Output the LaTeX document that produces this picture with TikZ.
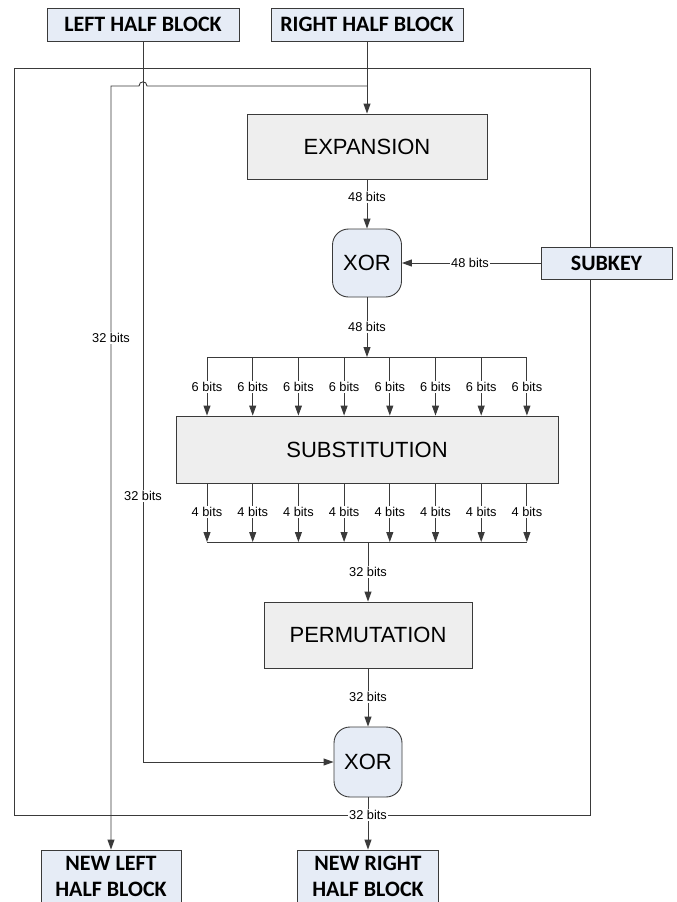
\documentclass[tikz,border=0pt]{standalone}
\usepackage{fontspec}
\setmainfont{Liberation Sans}
\newfontfamily\calfont{Carlito}
\usetikzlibrary{arrows.meta}
\definecolor{edge}{HTML}{3A3A3A}
\definecolor{bluefill}{HTML}{E6ECF6}
\definecolor{grayfill}{HTML}{EEEEEE}
\begin{document}
\begin{tikzpicture}[x=1pt,y=-1pt,line width=0.9pt,
  blockbox/.style={draw=edge,fill=bluefill,inner sep=0pt,align=center,
    font=\calfont\bfseries\fontsize{22}{26}\selectfont},
  procbox/.style={draw=edge,fill=grayfill,inner sep=0pt,
    font=\fontsize{22}{26}\selectfont},
  xorbox/.style={draw=edge,fill=bluefill,inner sep=0pt,rounded corners=16pt,
    font=\fontsize{22}{26}\selectfont},
  bits/.style={fill=white,inner sep=1pt,font=\fontsize{12.8}{14}\selectfont},
  arr/.style={draw=edge,-{Triangle[length=10pt,width=7pt]}},
  ln/.style={draw=edge}]
\useasboundingbox (0,0) rectangle (677,902);
\clip (0,0) rectangle (677,902);
\fill[white] (0,0) rectangle (677,902);
% frame
\draw[ln] (14,68) rectangle (590,815);
% nodes
\node[blockbox,minimum width=192pt,minimum height=33pt] (LHB) at (143,24.5) {LEFT HALF BLOCK};
\node[blockbox,minimum width=192pt,minimum height=33pt] (RHB) at (367,24.5) {RIGHT HALF BLOCK};
\node[procbox,minimum width=240pt,minimum height=65pt] (EXP) at (367,146.5) {EXPANSION};
\node[xorbox,minimum width=69pt,minimum height=68pt] (XOR1) at (367,263) {XOR};
\node[blockbox,minimum width=131pt,minimum height=32pt] (KEY) at (606.5,263) {SUBKEY};
\node[procbox,minimum width=382pt,minimum height=67pt] (SUB) at (367,449.5) {SUBSTITUTION};
\node[procbox,minimum width=208pt,minimum height=66pt] (PERM) at (368,635) {PERMUTATION};
\node[xorbox,minimum width=68pt,minimum height=70pt] (XOR2) at (368,762) {XOR};
\node[blockbox,minimum width=140pt,minimum height=52pt] (NEWL) at (111,876) {NEW LEFT\\HALF BLOCK};
\node[blockbox,minimum width=141pt,minimum height=52pt] (NEWR) at (368,876) {NEW RIGHT\\HALF BLOCK};
% right half to expansion, and branch to new left
\draw[arr] (RHB.south) -- (RHB.south |- EXP.north);
\coordinate (j) at (367,86);
\coordinate (h1) at (147,86);
\coordinate (h2) at (139,86);
\coordinate (c1) at (111,86);
\draw[arr] (j) -- (h1) .. controls (147,80.5) and (139,80.5) .. (h2) -- (c1) -- (NEWL.north);
\node[bits] at (111,338) {32 bits};
% left half to second xor
\coordinate (c2) at (LHB.south |- XOR2.west);
\draw[arr] (LHB.south) -- (c2) -- (XOR2.west);
\node[bits] at (143,496) {32 bits};
% expansion to xor
\draw[arr] (EXP.south) -- (XOR1.north);
\node[bits] at (367,197) {48 bits};
% subkey
\draw[arr] (KEY.west) -- (XOR1.east);
\node[bits] at (470,263) {48 bits};
% xor to bus
\coordinate (b1) at (367,357);
\draw[arr] (XOR1.south) -- (b1);
\node[bits] at (367,327) {48 bits};
\coordinate (bl) at (207,357);
\coordinate (br) at (527,357);
\draw[ln] (bl) -- (br);
\foreach \i in {0,...,7}{
  \pgfmathsetmacro{\xx}{207+45.7*\i}
  \coordinate (s\i) at (\xx,357);
  \draw[arr] (s\i) -- (s\i |- SUB.north);
  \node[bits] at (\xx,387) {6 bits};
  \coordinate (o\i) at (\xx,542);
  \draw[arr] (o\i |- SUB.south) -- (o\i);
  \node[bits] at (\xx,512) {4 bits};
}
\coordinate (ol) at (207,542);
\coordinate (or) at (527,542);
\draw[ln] (ol) -- (or);
\coordinate (b2) at (368,542);
\draw[arr] (b2) -- (PERM.north);
\node[bits] at (368,572) {32 bits};
\draw[arr] (PERM.south) -- (XOR2.north);
\node[bits] at (368,697) {32 bits};
\draw[arr] (XOR2.south) -- (NEWR.north);
\node[bits] at (368,815) {32 bits};
\end{tikzpicture}
\end{document}
